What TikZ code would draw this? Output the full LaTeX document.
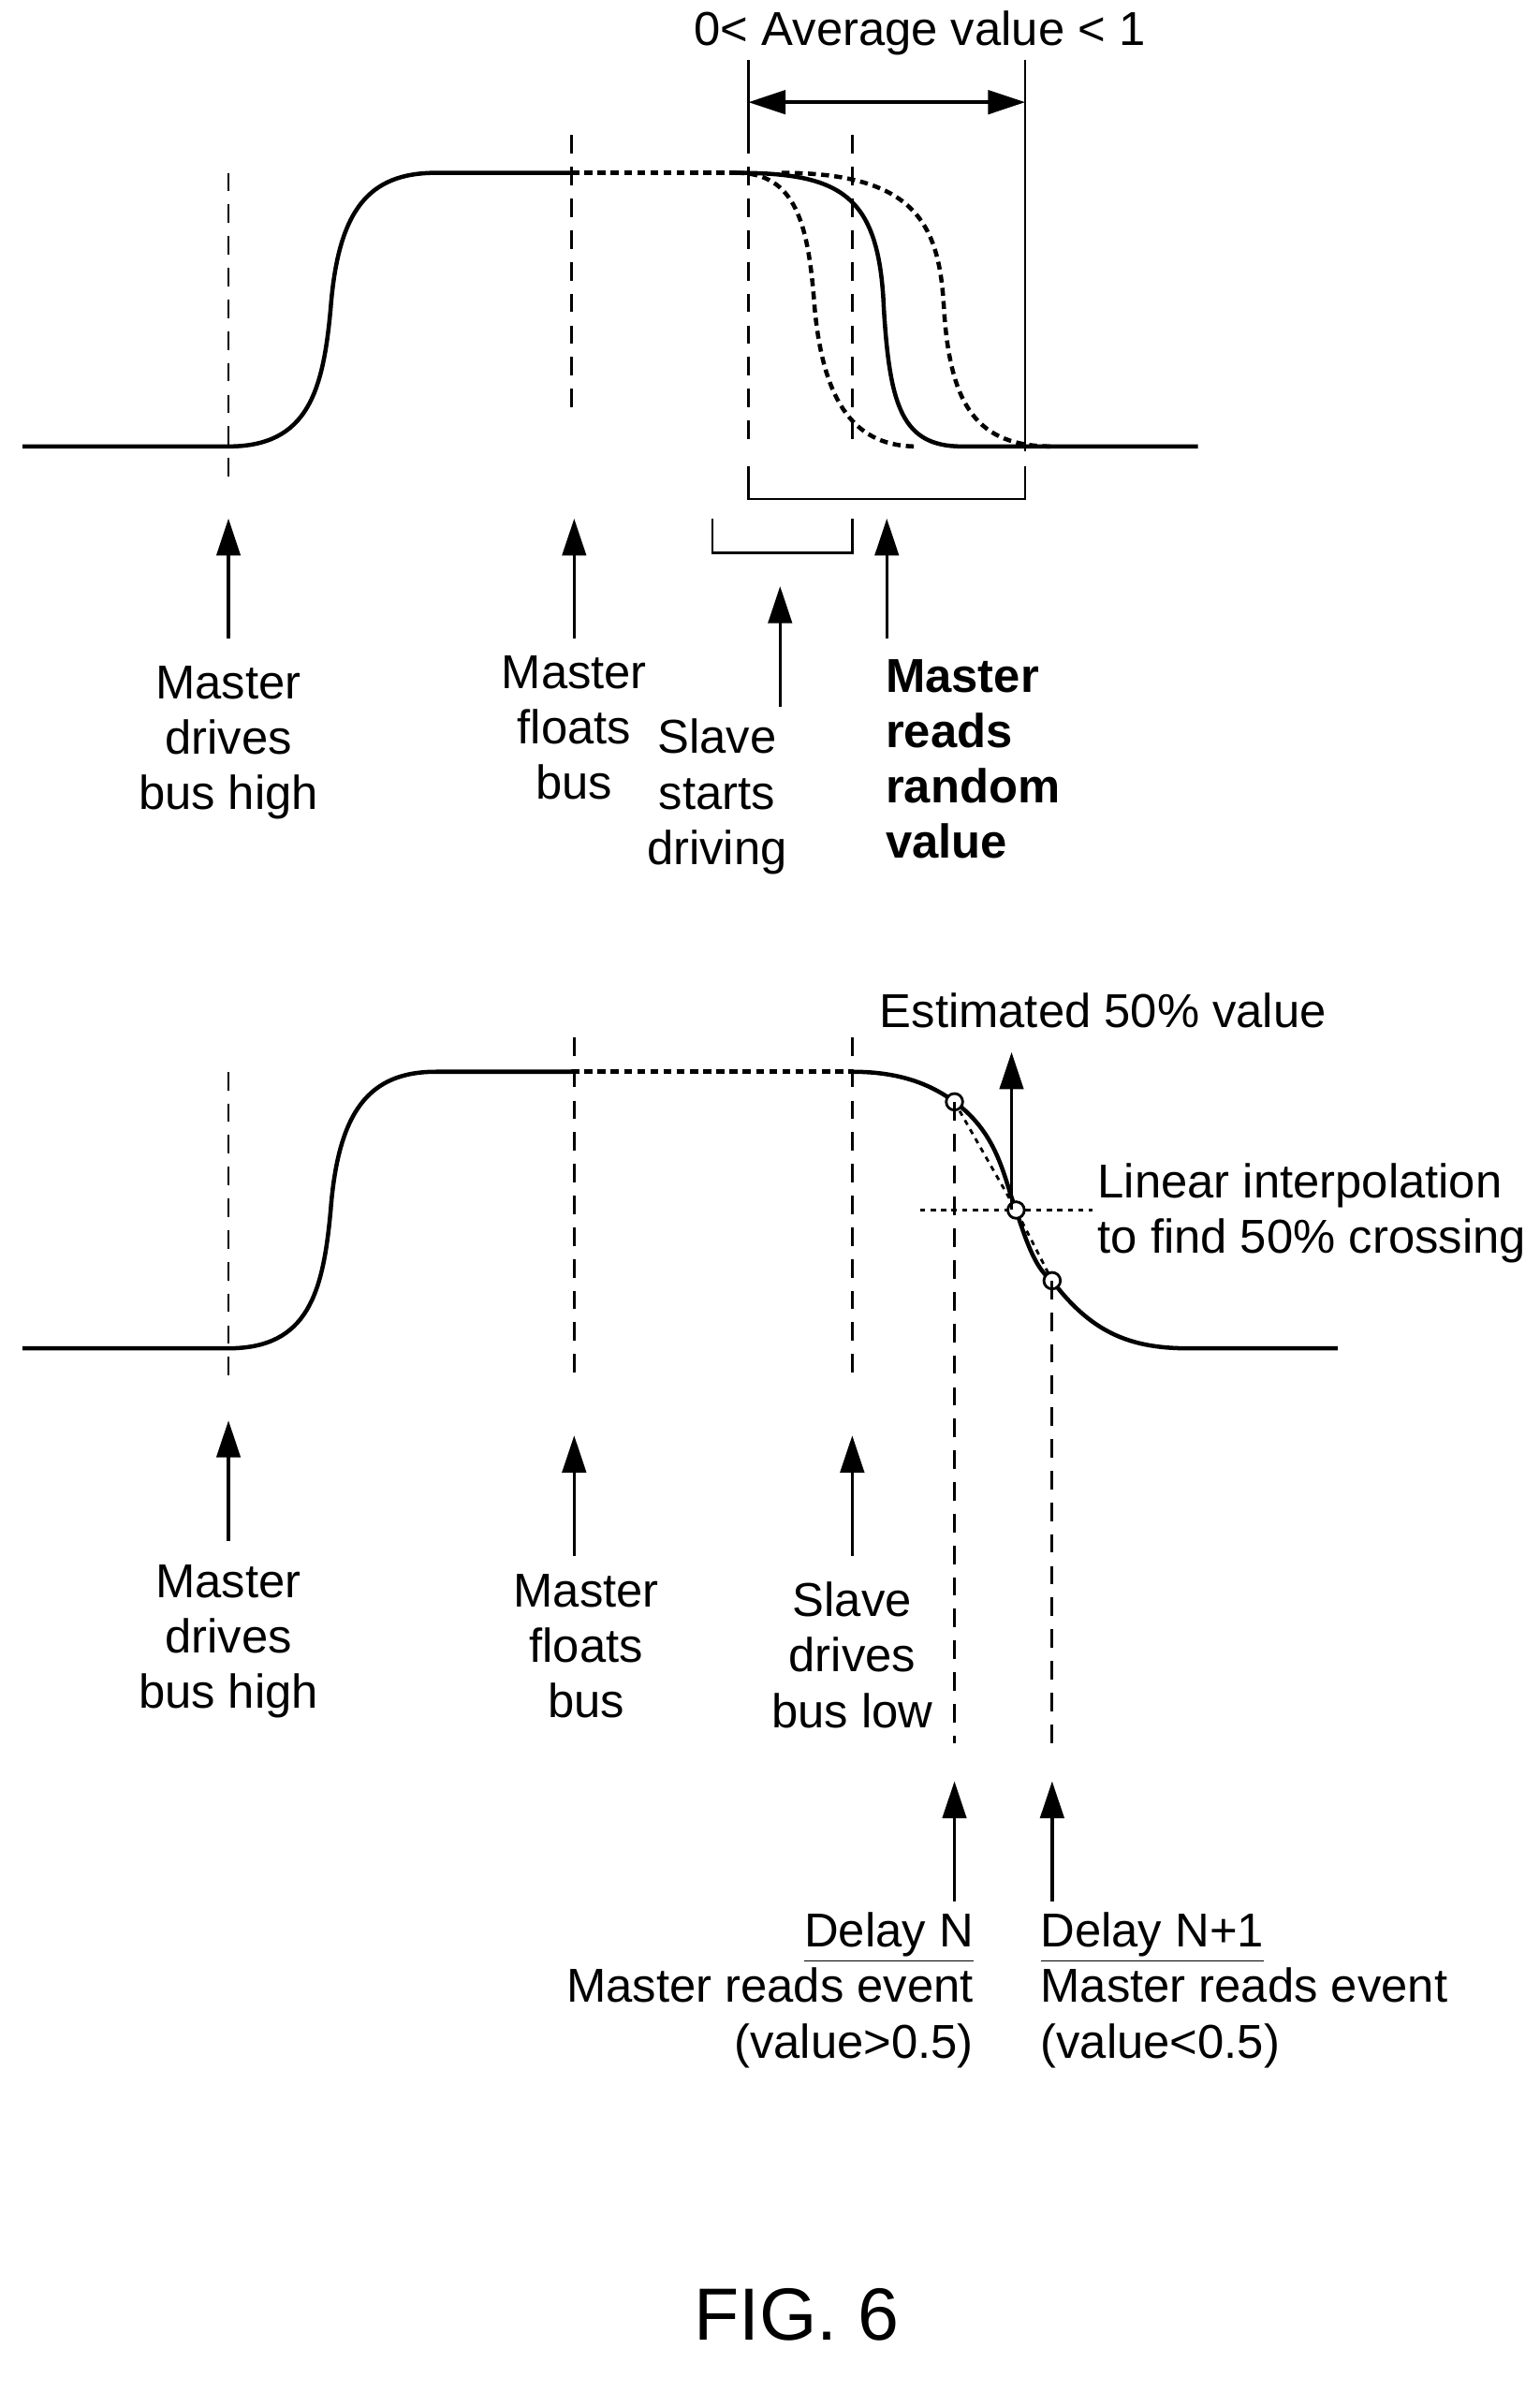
\documentclass[tikz,border=0pt]{standalone}
\usepackage{fontspec}
\setmainfont{Liberation Sans}
\usetikzlibrary{arrows.meta}
\tikzset{
    wave/.style={line width=1.6pt},
    guide/.style={line width=1pt, dash pattern=on 7pt off 5pt},
    float/.style={line width=1.6pt, dash pattern=on 3pt off 2pt},
    pointer/.style={line width=1.2pt, -{Triangle[length=14pt,width=9pt]}},
    lbl/.style={align=center, font=\fontsize{18}{21}\selectfont, inner sep=0pt},
}
\begin{document}
\begin{tikzpicture}[x=0.02cm,y=-0.02cm]
    \useasboundingbox (0,0) rectangle (1024,1592);

    % upper trace
    \draw[wave] (15,297) -- (152,297) .. controls (205,297) and (215,260) .. (220,205)
        .. controls (225,140) and (245,115) .. (290,115) -- (380,115);
    \draw[float] (380,115) -- (490,115);
    \draw[wave] (490,115) .. controls (560,115) and (585,130) .. (588,205)
        .. controls (592,270) and (600,297) .. (640,297) -- (797,297);
    \draw[float] (490,115) .. controls (530,115) and (538,150) .. (542,205)
        .. controls (548,270) and (570,297) .. (610,297);
    \draw[float] (520,115) .. controls (610,115) and (625,150) .. (628,205)
        .. controls (632,270) and (650,297) .. (700,297);

    \draw[guide] (152,115) -- (152,320);
    \draw[guide] (380,90) -- (380,275);
    \draw[guide] (498,90) -- (498,300);
    \draw[guide] (567,90) -- (567,300);
    \draw[line width=1pt] (682,40) -- (682,300);
    \draw[line width=1pt] (498,40) -- (498,90);

    \coordinate (avgL) at (498,68);
    \coordinate (avgR) at (682,68);
    \draw[line width=1.2pt, {Triangle[length=14pt,width=9pt]}-{Triangle[length=14pt,width=9pt]}] (avgL) -- (avgR);
    \node[lbl] (avg) at (612,22) {0< Average value < 1};

    \draw[line width=1pt] (498,310) -- (498,332) -- (682,332) -- (682,310);
    \draw[line width=1pt] (474,345) -- (474,368) -- (567,368) -- (567,345);

    \node[lbl] (mdrive) at (152,494) {Master\\drives\\bus high};
    \node[lbl] (mfloat) at (382,484) {Master\\floats\\bus};
    \node[lbl] (sstart) at (477,530) {Slave\\starts\\driving};
    \node[lbl, align=left, anchor=west, font=\fontsize{18}{21}\selectfont\bfseries] (mread) at (589,505) {Master\\reads\\random\\value};
    \draw[pointer] (152,425) -- (152,345);
    \draw[pointer] (382,425) -- (382,345);
    \draw[pointer] (519,470) -- (519,390);
    \draw[pointer] (590,425) -- (590,345);

    % lower trace
    \coordinate (pN) at (635,733);
    \coordinate (pMid) at (676,805);
    \coordinate (pN1) at (700,852);
    \draw[wave] (15,897) -- (152,897) .. controls (205,897) and (215,860) .. (220,805)
        .. controls (225,740) and (245,713) .. (290,713) -- (380,713);
    \draw[float] (380,713) -- (567,713);
    \draw[wave] (567,713) .. controls (600,713) and (620,722) .. (pN)
        .. controls (665,755) and (668,785) .. (pMid)
        .. controls (684,830) and (690,845) .. (pN1)
        .. controls (725,885) and (750,897) .. (790,897) -- (890,897);
    \draw[line width=1pt, dash pattern=on 2pt off 2pt] (pN) -- (pMid) -- (pN1);
    \draw[line width=1pt, dash pattern=on 2pt off 2pt] (612,805) -- (727,805);
    \foreach \p in {pN,pMid,pN1}
        \draw[line width=1pt, fill=white] (\p) circle (5.5);

    \draw[guide] (152,713) -- (152,920);
    \draw[guide] (382,690) -- (382,920);
    \draw[guide] (567,690) -- (567,920);
    \draw[guide] (pN) -- (635,1160);
    \draw[guide] (pN1) -- (700,1160);

    \coordinate (est) at (673,700);
    \draw[pointer] (pMid -| est) -- (est);
    \node[lbl, anchor=west] (estlbl) at (585,672) {Estimated 50\% value};
    \node[lbl, align=left, anchor=west] (interp) at (730,807) {Linear interpolation\\to find 50\% crossing};

    \node[lbl] (mdrive2) at (152,1092) {Master\\drives\\bus high};
    \node[lbl] (mfloat2) at (390,1095) {Master\\floats\\bus};
    \node[lbl] (sdrive) at (567,1101) {Slave\\drives\\bus low};
    \node[lbl, align=right, anchor=north east] (dN) at (648,1272) {\underline{Delay N}\\Master reads event\\(value>0.5)};
    \node[lbl, align=left, anchor=north west] (dN1) at (692,1272) {\underline{Delay N+1}\\Master reads event\\(value<0.5)};
    \draw[pointer] (152,1025) -- (152,945);
    \draw[pointer] (382,1035) -- (382,955);
    \draw[pointer] (567,1035) -- (567,955);
    \draw[pointer] (635,1265) -- (635,1185);
    \draw[pointer] (700,1265) -- (700,1185);

    \node[font=\fontsize{28}{34}\selectfont] (fig) at (530,1540) {FIG. 6};
\end{tikzpicture}
\end{document}
